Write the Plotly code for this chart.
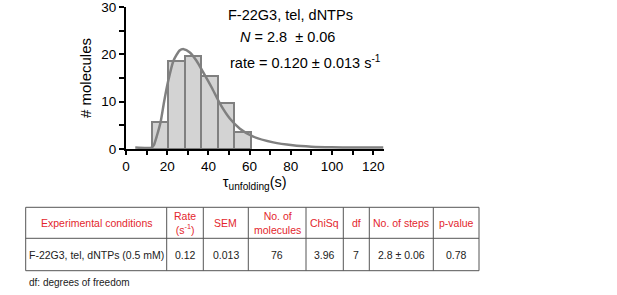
import plotly.graph_objects as go

# Histogram data (bin centers, counts)
bin_centers = [16.5, 24.5, 32.5, 40.5, 48.5, 56.5]
counts = [5.6, 18.5, 19.6, 15.5, 9.7, 3.6]
bin_width = 8

# Fitted curve
fit_x = [4.5, 12.5, 13.5, 15.0, 16.8, 18.5, 20.5, 23.0, 26.0, 28.0, 31.0, 34.3, 37.5, 41.6, 45.6,
         50.5, 55.3, 61.8, 71.5, 81.0, 90.0, 100.0, 110.0, 125.0]
fit_y = [0.3, 0.3, 0.8, 2.8, 5.7, 10.0, 14.4, 18.6, 20.8, 21.1, 20.4, 18.6, 16.2, 13.0, 9.6,
         6.4, 4.3, 2.6, 1.4, 0.8, 0.5, 0.35, 0.3, 0.3]

x_ticks = [0, 20, 40, 60, 80, 100, 120]
y_ticks = [0, 10, 20, 30]

# Table
table_header = ["Experimental conditions", "Rate<br>(s<sup>-1</sup>)", "SEM", "No. of<br>molecules",
                "ChiSq", "df", "No. of steps", "p-value"]
table_row = ["F-22G3, tel, dNTPs (0.5 mM)", "0.12", "0.013", "76", "3.96", "7", "2.8 ± 0.06", "0.78"]
col_widths = [141, 36.6, 45, 57.7, 37.3, 26, 64, 45.7]

W, H = 617, 295
FONT = "Liberation Sans, Arial, sans-serif"
GRAY = "#808080"
RED = "#e3262d"

fig = go.Figure()
fig.add_trace(go.Bar(x=bin_centers, y=counts, width=bin_width,
                     marker=dict(color="#d3d3d3", line=dict(color=GRAY, width=2)),
                     showlegend=False))
fig.add_trace(go.Scatter(x=fit_x, y=fit_y, mode="lines",
                         line=dict(color=GRAY, width=2.5, shape="spline", smoothing=0.6),
                         showlegend=False))

# ---- table drawn with shapes + annotations (paper coords) ----
def px(x):
    return x / W

def py(y):
    return 1 - y / H

tx0, ty0, ty1, ty2 = 25.7, 207.3, 238.3, 270.7
edges = [tx0]
for w in col_widths:
    edges.append(edges[-1] + w)

shapes = []
line_style = dict(color="#555555", width=1)
for e in edges:
    shapes.append(dict(type="line", xref="paper", yref="paper", x0=px(e), x1=px(e),
                       y0=py(ty0), y1=py(ty2), line=line_style))
for yy in (ty0, ty1, ty2):
    shapes.append(dict(type="line", xref="paper", yref="paper", x0=px(edges[0]), x1=px(edges[-1]),
                       y0=py(yy), y1=py(yy), line=line_style))

annotations = []
for i, (h, v) in enumerate(zip(table_header, table_row)):
    cx = (edges[i] + edges[i + 1]) / 2
    annotations.append(dict(text=h, x=px(cx), y=py((ty0 + ty1) / 2), xref="paper", yref="paper",
                            showarrow=False, xanchor="center", yanchor="middle",
                            font=dict(size=10.5, color=RED)))
    annotations.append(dict(text=v, x=px(cx), y=py((ty1 + ty2) / 2), xref="paper", yref="paper",
                            showarrow=False, xanchor="center", yanchor="middle",
                            font=dict(size=10.5, color="#222222")))

annotations += [
    dict(text="F-22G3, tel, dNTPs", x=px(290), y=py(15), xref="paper", yref="paper",
         showarrow=False, font=dict(size=14.5), xanchor="center", yanchor="middle"),
    dict(text="<i>N</i> = 2.8  ± 0.06", x=px(287), y=py(37), xref="paper", yref="paper",
         showarrow=False, font=dict(size=14.5), xanchor="center", yanchor="middle"),
    dict(text="rate = 0.120 ± 0.013 s<sup>-1</sup>", x=px(305), y=py(62), xref="paper", yref="paper",
         showarrow=False, font=dict(size=14.5), xanchor="center", yanchor="middle"),
    dict(text="df: degrees of freedom", x=px(27), y=py(282), xref="paper", yref="paper",
         showarrow=False, font=dict(size=10, color="#222222"), xanchor="left", yanchor="middle"),
]

fig.update_layout(
    width=W, height=H, autosize=False,
    margin=dict(l=0, r=0, t=0, b=0, pad=0),
    paper_bgcolor="white", plot_bgcolor="white",
    font=dict(family=FONT, color="black"),
    bargap=0,
    xaxis=dict(domain=[px(126), px(383.5)], range=[0, 125], automargin=False,
               tickvals=x_ticks, ticks="outside", ticklen=4, tickwidth=2, tickcolor="black",
               minor=dict(dtick=10, tick0=0, ticks="outside", ticklen=4, tickwidth=2, tickcolor="black"),
               showline=True, linecolor="black", linewidth=2, showgrid=False, zeroline=False,
               tickfont=dict(size=13.5), fixedrange=True, ticklabeloverflow="allow",
               title=dict(text="τ<sub>unfolding</sub>(s)", font=dict(size=14.5), standoff=3)),
    yaxis=dict(domain=[py(149), py(7)], range=[0, 30], automargin=False,
               tickvals=y_ticks, ticks="outside", ticklen=5, tickwidth=2, tickcolor="black",
               minor=dict(dtick=5, tick0=0, ticks="outside", ticklen=5, tickwidth=2, tickcolor="black"),
               showline=True, linecolor="black", linewidth=2, showgrid=False, zeroline=False,
               tickfont=dict(size=13.5), fixedrange=True, ticklabeloverflow="allow",
               title=dict(text="# molecules", font=dict(size=15), standoff=6)),
    shapes=shapes,
    annotations=annotations,
)

fig.write_html("out.html", config={"displayModeBar": False},
               post_script="document.body.style.margin='0';document.body.style.overflow='hidden';")
